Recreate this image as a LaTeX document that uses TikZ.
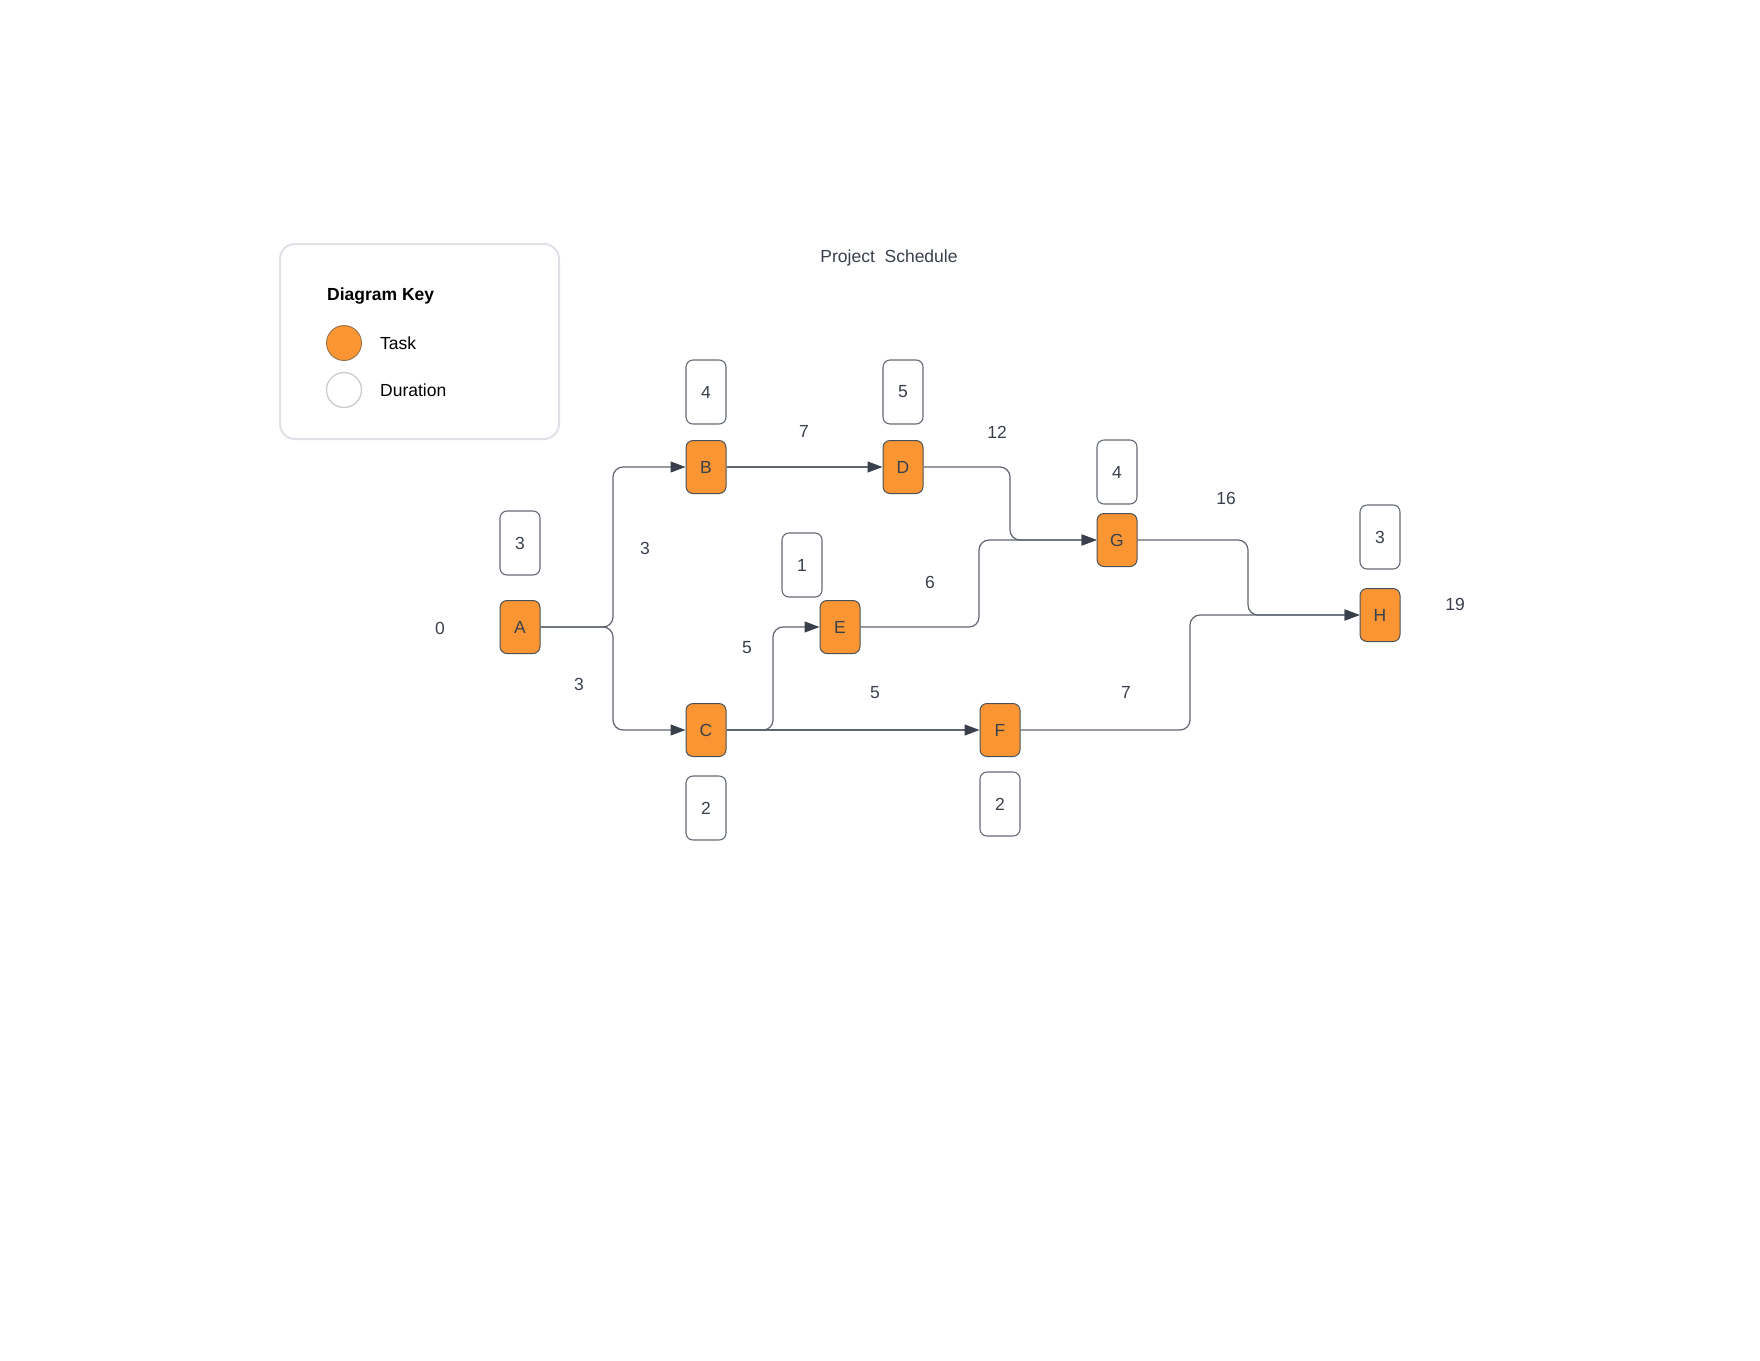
\documentclass[tikz,border=0pt]{standalone}
\usepackage{fontspec}
\setmainfont{Liberation Sans}
\usetikzlibrary{arrows.meta}
\definecolor{orng}{HTML}{F99533}
\definecolor{txt}{HTML}{39404B}
\definecolor{bord}{HTML}{4A5059}
\definecolor{durb}{HTML}{656B74}
\definecolor{wire}{HTML}{5F656E}
\definecolor{keyb}{HTML}{DEE2E7}
\definecolor{circb}{HTML}{C9C9C9}
\tikzset{
  every node/.style={font=\fontsize{17.5}{20}\selectfont, text=txt},
  taskbox/.style={draw=bord, fill=orng, line width=1pt, rounded corners=7pt,
    minimum width=40pt, minimum height=53pt, inner sep=0pt},
  durbox/.style={draw=durb, fill=white, line width=1.1pt, rounded corners=7pt,
    minimum width=40pt, minimum height=64pt, inner sep=0pt},
  lbl/.style={inner sep=0pt},
  conn/.style={draw=wire, line width=1.2pt, rounded corners=10pt,
    -{Triangle[length=15pt,width=11pt,fill=txt,color=txt]}},
  keyframe/.style={draw=keyb, line width=2pt, rounded corners=15pt},
  keytext/.style={anchor=west, inner sep=0pt, text=black},
}
\begin{document}
\begin{tikzpicture}[x=1pt,y=-1pt]
\useasboundingbox (0,0) rectangle (1760,1360);
% legend
\draw[keyframe] (280,244) rectangle (559,439);
\node[keytext, font=\fontsize{17.5}{20}\selectfont\bfseries] (keytitle) at (327,296) {Diagram Key};
\node[circle, draw=bord!60!orng, fill=orng, minimum size=35pt, inner sep=0pt, line width=0.8pt] (keytask) at (344,343) {};
\node[keytext] (keytasklbl) at (380,343) {Task};
\node[circle, draw=circb, fill=white, minimum size=35pt, inner sep=0pt, line width=1.2pt] (keydur) at (344,390) {};
\node[keytext] (keydurlbl) at (380,390) {Duration};
% title
\node[lbl] (title) at (889,258) {Project\ \ Schedule};
% tasks
\node[taskbox] (A) at (520,627) {A};
\node[taskbox] (B) at (706,467) {B};
\node[taskbox] (D) at (903,467) {D};
\node[taskbox] (E) at (840,627) {E};
\node[taskbox] (C) at (706,730) {C};
\node[taskbox] (F) at (1000,730) {F};
\node[taskbox] (G) at (1117,540) {G};
\node[taskbox] (H) at (1380,615) {H};
% durations
\node[durbox] (dA) at (520,543) {3};
\node[durbox] (dB) at (706,392) {4};
\node[durbox] (dD) at (903,392) {5};
\node[durbox] (dE) at (802,565) {1};
\node[durbox] (dG) at (1117,472) {4};
\node[durbox] (dH) at (1380,537) {3};
\node[durbox] (dC) at (706,808) {2};
\node[durbox] (dF) at (1000,804) {2};
% junction columns
\coordinate (jA) at (613,0);
\coordinate (jC) at (773,0);
\coordinate (jE) at (979,0);
\coordinate (jD) at (1010,0);
\coordinate (jF) at (1190,0);
\coordinate (jG) at (1248,0);
% connectors
\draw[conn] (A.east) -- (A.east -| jA) |- (B.west);
\draw[conn] (A.east) -- (A.east -| jA) |- (C.west);
\draw[conn] (B.east) -- (D.west);
\draw[conn] (C.east) -- (C.east -| jC) |- (E.west);
\draw[conn] (C.east) -- (F.west);
\draw[conn] (D.east) -- (D.east -| jD) |- (G.west);
\draw[conn] (E.east) -- (E.east -| jE) |- (G.west);
\draw[conn] (G.east) -- (G.east -| jG) |- (H.west);
\draw[conn] (F.east) -- (F.east -| jF) |- (H.west);
% time labels
\node[lbl] (t0) at (440,628) {0};
\node[lbl] (tAB) at (645,548) {3};
\node[lbl] (tAC) at (579,684) {3};
\node[lbl] (tBD) at (804,431) {7};
\node[lbl] (tDG) at (997,432) {12};
\node[lbl] (tCE) at (747,648) {5};
\node[lbl] (tCF) at (875,693) {5};
\node[lbl] (tEG) at (930,582) {6};
\node[lbl] (tGH) at (1226,498) {16};
\node[lbl] (tFH) at (1126,692) {7};
\node[lbl] (tH) at (1455,604) {19};
\end{tikzpicture}
\end{document}
